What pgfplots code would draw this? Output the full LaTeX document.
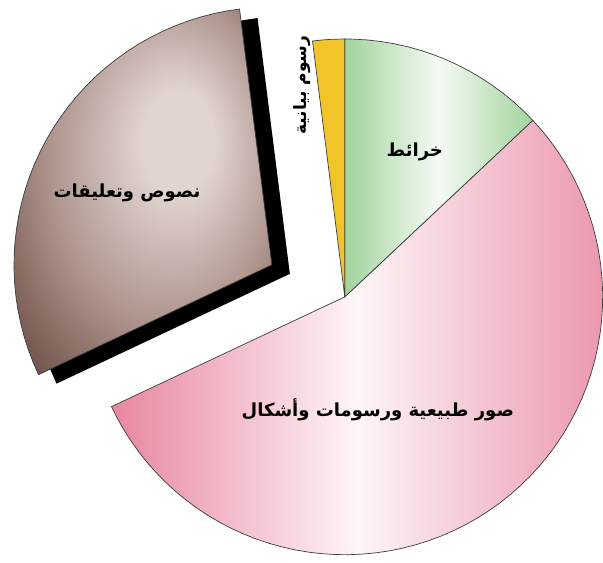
\documentclass[border=0pt]{standalone}
\usepackage{pgfplots}
\pgfplotsset{compat=1.18}
\usepackage{fontspec}
\newfontfamily\arabicfont[Script=Arabic]{DejaVu Sans}
\TeXXeTstate=1
\definecolor{brownlight}{HTML}{E2D4D0}
\definecolor{brownmid}{HTML}{B09790}
\definecolor{browndark}{HTML}{66473E}
\definecolor{brownedge}{HTML}{583A31}
\definecolor{greenc}{HTML}{A2D39C}
\definecolor{pinkc}{HTML}{E8869F}
\definecolor{yellowc}{HTML}{F2C42A}
\definecolor{edgec}{HTML}{3C3C3C}
\pgfdeclareradialshading{brownsh}{\pgfpoint{8bp}{8bp}}{color(0bp)=(brownlight); color(7bp)=(brownlight); color(22bp)=(brownmid); color(38bp)=(browndark); color(50bp)=(brownedge)}
\begin{document}
\begin{tikzpicture}
\begin{axis}[x=1pt, y=1pt, xmin=-345, xmax=258, ymin=-266, ymax=297,
  hide axis, clip=false]
\path (axis cs:-345,-266) rectangle (axis cs:258,297);
% pink slice: 55 %
\addplot[data cs=polar, draw=edgec, line width=0.7pt, left color=pinkc, right color=pinkc!85!white, middle color=white!92!pinkc] coordinates {
(0,0) (-154.8,258) (-152,258) (-149,258) (-146,258) (-143,258) (-140,258) (-137,258) (-134,258) (-131,258) (-128,258) (-125,258) (-122,258) (-119,258) (-116,258) (-113,258) (-110,258) (-107,258) (-104,258) (-101,258) (-98,258) (-95,258) (-92,258) (-89,258) (-86,258) (-83,258) (-80,258) (-77,258) (-74,258) (-71,258) (-68,258) (-65,258) (-62,258) (-59,258) (-56,258) (-53,258) (-50,258) (-47,258) (-44,258) (-41,258) (-38,258) (-35,258) (-32,258) (-29,258) (-26,258) (-23,258) (-20,258) (-17,258) (-14,258) (-11,258) (-8,258) (-5,258) (-2,258) (1,258) (4,258) (7,258) (10,258) (13,258) (16,258) (19,258) (22,258) (25,258) (28,258) (31,258) (34,258) (37,258) (40,258) (43.2,258)
} -- cycle;
% green slice: 13 %
\addplot[data cs=polar, draw=edgec, line width=0.7pt, left color=greenc, right color=greenc, middle color=white!90!greenc] coordinates {
(0,0) (43.2,258) (46,258) (49,258) (52,258) (55,258) (58,258) (61,258) (64,258) (67,258) (70,258) (73,258) (76,258) (79,258) (82,258) (85,258) (88,258) (90,258)
} -- cycle;
% yellow slice: 2 %
\addplot[data cs=polar, draw=edgec, line width=0.7pt, fill=yellowc] coordinates {
(0,0) (90,258) (93,258) (95,258) (97.2,258)
} -- cycle;
% shadow of the exploded slice
\addplot[data cs=polar, draw=none, fill=black, xshift=-55pt, yshift=23pt] coordinates {
(0,0) (97.2,258) (100,258) (103,258) (106,258) (109,258) (112,258) (115,258) (118,258) (121,258) (124,258) (127,258) (130,258) (133,258) (136,258) (139,258) (142,258) (145,258) (148,258) (151,258) (154,258) (157,258) (160,258) (163,258) (166,258) (169,258) (172,258) (175,258) (178,258) (181,258) (184,258) (187,258) (190,258) (193,258) (196,258) (199,258) (202,258) (205.2,258)
} -- cycle;
% brown slice: 30 %, exploded
\addplot[data cs=polar, draw=edgec, line width=0.7pt, shading=brownsh, xshift=-73pt, yshift=32pt] coordinates {
(0,0) (97.2,258) (100,258) (103,258) (106,258) (109,258) (112,258) (115,258) (118,258) (121,258) (124,258) (127,258) (130,258) (133,258) (136,258) (139,258) (142,258) (145,258) (148,258) (151,258) (154,258) (157,258) (160,258) (163,258) (166,258) (169,258) (172,258) (175,258) (178,258) (181,258) (184,258) (187,258) (190,258) (193,258) (196,258) (199,258) (202,258) (205.2,258)
} -- cycle;
\node[font=\arabicfont\bfseries\fontsize{18}{21}\selectfont] at (axis cs:-218,104) {\beginR نصوص وتعليقات\endR};
\node[font=\arabicfont\bfseries\fontsize{17}{20}\selectfont, rotate=90] at (axis cs:-43,212) {\beginR رسوم بيانية\endR};
\node[font=\arabicfont\bfseries\fontsize{18}{21}\selectfont] at (axis cs:70,145) {\beginR خرائط\endR};
\node[font=\arabicfont\bfseries\fontsize{18}{21}\selectfont] at (axis cs:33,-113) {\beginR صور طبيعية ورسومات وأشكال\endR};
\end{axis}
\end{tikzpicture}
\end{document}
